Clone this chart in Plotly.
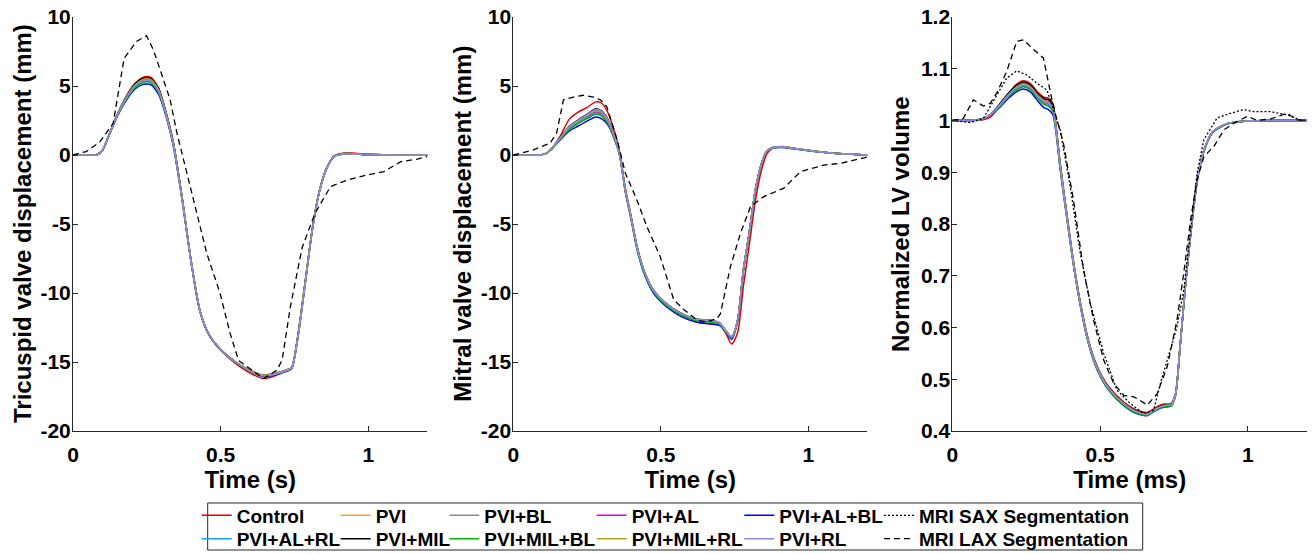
import plotly.graph_objects as go

# ---------------- data ----------------
NAMES = ["Control", "PVI", "PVI+BL", "PVI+AL", "PVI+AL+BL",
         "PVI+AL+RL", "PVI+MIL", "PVI+MIL+BL", "PVI+MIL+RL", "PVI+RL"]

X_TICKS = [0, 0.5, 1]
X_TICK_TEXT = ["0", "0.5", "1"]
Y_TICKS_DISP = [-20, -15, -10, -5, 0, 5, 10]
Y_TICK_TEXT_DISP = ["-20", "-15", "-10", "-5", "0", "5", "10"]
Y_TICKS_VOL = [0.4, 0.5, 0.6, 0.7, 0.8, 0.9, 1.0, 1.1, 1.2]
Y_TICK_TEXT_VOL = ["0.4", "0.5", "0.6", "0.7", "0.8", "0.9", "1", "1.1", "1.2"]
X_TITLES = ["Time (s)", "Time (s)", "Time (ms)"]
Y_TITLES = ["Tricuspid valve displacement (mm)", "Mitral valve displacement (mm)",
            "Normalized LV volume"]

# Tricuspid valve displacement (mm)
T_TV = [0, 0.05, 0.08, 0.10, 0.12, 0.15, 0.18, 0.21, 0.235, 0.25, 0.265, 0.29, 0.315,
        0.34, 0.37, 0.40, 0.43, 0.46, 0.50, 0.55, 0.60, 0.645, 0.69, 0.72, 0.74, 0.76,
        0.785, 0.81, 0.835, 0.86, 0.885, 0.92, 1.0, 1.1, 1.2]
TV_CONTROL = [0, 0, 0.02, 0.35, 1.35, 2.95, 4.25, 5.2, 5.6, 5.68, 5.6, 4.85, 3.1,
              0.9, -3.15, -7.7, -11.35, -13.05, -14.15, -15.1, -15.8, -16.2, -15.95, -15.7, -15.5, -13.4,
              -9.5, -5.5, -2.6, -0.9, -0.05, 0.15, 0.05, 0.0, 0.0]
TV_PVI = [0, 0, 0.02, 0.35, 1.35, 2.9, 4.15, 5.05, 5.43, 5.5, 5.42, 4.7, 3.0,
          0.8, -3.2, -7.7, -11.3, -13.0, -14.1, -15.0, -15.65, -16.0, -15.85, -15.65, -15.45, -13.3,
          -9.4, -5.4, -2.55, -0.9, -0.08, 0.1, 0.03, 0.0, 0.0]
TV_PVI_BL = [0, 0, 0.02, 0.35, 1.35, 2.9, 4.17, 5.1, 5.48, 5.55, 5.47, 4.75, 3.02,
             0.8, -3.2, -7.7, -11.3, -13.0, -14.1, -15.0, -15.65, -16.0, -15.85, -15.65, -15.45, -13.3,
             -9.4, -5.4, -2.55, -0.9, -0.08, 0.1, 0.03, 0.0, 0.0]
TV_PVI_AL = [0, 0, 0.02, 0.35, 1.35, 2.88, 4.12, 5.02, 5.38, 5.45, 5.37, 4.65, 2.97,
             0.8, -3.2, -7.7, -11.3, -13.0, -14.1, -15.0, -15.65, -16.0, -15.85, -15.65, -15.45, -13.3,
             -9.4, -5.4, -2.55, -0.9, -0.08, 0.1, 0.03, 0.0, 0.0]
TV_PVI_AL_BL = [0, 0, 0.02, 0.34, 1.3, 2.8, 3.95, 4.78, 5.1, 5.15, 5.08, 4.4, 2.8,
                0.6, -3.35, -7.8, -11.35, -13.0, -14.1, -15.0, -15.65, -16.05, -15.9, -15.7, -15.5, -13.45,
                -9.55, -5.5, -2.6, -0.95, -0.1, 0.08, 0.02, 0.0, 0.0]
TV_PVI_AL_RL = [0, 0, 0.02, 0.35, 1.33, 2.85, 4.07, 4.95, 5.29, 5.35, 5.28, 4.58, 2.92,
                0.75, -3.25, -7.7, -11.3, -13.0, -14.1, -15.0, -15.65, -16.0, -15.85, -15.65, -15.45, -13.35,
                -9.45, -5.45, -2.55, -0.9, -0.08, 0.1, 0.03, 0.0, 0.0]
TV_PVI_MIL = [0, 0, 0.02, 0.35, 1.35, 2.93, 4.2, 5.15, 5.53, 5.6, 5.52, 4.8, 3.06,
              0.85, -3.2, -7.7, -11.3, -13.0, -14.1, -15.0, -15.6, -15.95, -15.8, -15.6, -15.4, -13.3,
              -9.4, -5.4, -2.55, -0.9, -0.08, 0.1, 0.03, 0.0, 0.0]
TV_PVI_MIL_BL = [0, 0, 0.02, 0.35, 1.32, 2.83, 4.03, 4.9, 5.24, 5.3, 5.23, 4.53, 2.9,
                 0.7, -3.3, -7.75, -11.3, -13.0, -14.1, -15.0, -15.65, -16.0, -15.85, -15.65, -15.45, -13.35,
                 -9.45, -5.45, -2.55, -0.9, -0.08, 0.1, 0.03, 0.0, 0.0]
TV_PVI_MIL_RL = [0, 0, 0.02, 0.35, 1.35, 2.91, 4.16, 5.07, 5.45, 5.52, 5.44, 4.72, 3.01,
                 0.8, -3.2, -7.7, -11.3, -13.0, -14.1, -15.0, -15.6, -15.95, -15.8, -15.6, -15.4, -13.3,
                 -9.4, -5.4, -2.55, -0.9, -0.08, 0.1, 0.03, 0.0, 0.0]
TV_PVI_RL = [0, 0, 0.02, 0.35, 1.34, 2.87, 4.1, 5.0, 5.35, 5.42, 5.34, 4.63, 2.95,
             0.75, -3.25, -7.75, -11.3, -13.0, -14.1, -15.0, -15.65, -16.0, -15.85, -15.65, -15.45, -13.45,
             -9.55, -5.5, -2.6, -0.95, -0.1, 0.08, 0.02, 0.0, 0.0]

# Mitral valve displacement (mm)
T_MV = [0, 0.05, 0.09, 0.11, 0.13, 0.16, 0.19, 0.22, 0.25, 0.28, 0.30, 0.32, 0.34,
        0.36, 0.38, 0.40, 0.42, 0.445, 0.475, 0.52, 0.57, 0.62, 0.67, 0.70, 0.72, 0.74,
        0.76, 0.78, 0.80, 0.82, 0.84, 0.86, 0.88, 0.91, 0.96, 1.03, 1.1, 1.2]
MV_CONTROL = [0, 0, 0, 0.1, 0.45, 1.4, 2.6, 3.1, 3.45, 3.85, 3.75, 3.1, 1.9,
              0.3, -2.4, -4.5, -6.7, -8.6, -9.95, -10.95, -11.7, -12.1, -12.25, -12.35, -12.9, -13.7,
              -12.9, -9.5, -6.5, -3.4, -1.2, 0.1, 0.5, 0.62, 0.45, 0.25, 0.1, 0.0]
MV_PVI = [0, 0, 0, 0.1, 0.45, 1.25, 2.0, 2.45, 2.85, 3.2, 3.05, 2.5, 1.5,
          0.1, -2.6, -4.6, -6.7, -8.5, -9.8, -10.8, -11.5, -11.9, -12.0, -12.2, -12.75, -13.2,
          -12.0, -8.3, -5.6, -2.6, -0.7, 0.3, 0.55, 0.6, 0.45, 0.25, 0.1, 0.0]
MV_PVI_BL = [0, 0, 0, 0.1, 0.45, 1.25, 2.05, 2.5, 2.9, 3.28, 3.12, 2.55, 1.55,
             0.1, -2.6, -4.6, -6.7, -8.5, -9.8, -10.8, -11.5, -11.9, -12.0, -12.2, -12.75, -13.2,
             -12.0, -8.3, -5.6, -2.6, -0.7, 0.3, 0.55, 0.6, 0.45, 0.25, 0.1, 0.0]
MV_PVI_AL = [0, 0, 0, 0.1, 0.45, 1.22, 1.95, 2.4, 2.78, 3.12, 2.98, 2.45, 1.45,
             0.08, -2.62, -4.62, -6.72, -8.52, -9.82, -10.82, -11.52, -11.92, -12.02, -12.22, -12.75, -13.2,
             -12.0, -8.3, -5.6, -2.6, -0.7, 0.3, 0.55, 0.6, 0.45, 0.25, 0.1, 0.0]
MV_PVI_AL_BL = [0, 0, 0, 0.1, 0.42, 1.12, 1.75, 2.1, 2.45, 2.75, 2.62, 2.2, 1.3,
                0.0, -2.7, -4.75, -6.9, -8.7, -10.0, -11.0, -11.7, -12.1, -12.25, -12.35, -12.85, -13.35,
                -12.1, -8.4, -5.6, -2.6, -0.7, 0.3, 0.5, 0.55, 0.42, 0.23, 0.1, 0.0]
MV_PVI_AL_RL = [0, 0, 0, 0.1, 0.44, 1.2, 1.9, 2.32, 2.68, 3.02, 2.88, 2.38, 1.42,
                0.05, -2.65, -4.65, -6.8, -8.6, -9.9, -10.9, -11.6, -12.0, -12.1, -12.25, -12.8, -13.25,
                -12.05, -8.35, -5.6, -2.6, -0.7, 0.3, 0.53, 0.58, 0.44, 0.24, 0.1, 0.0]
MV_PVI_MIL = [0, 0, 0, 0.1, 0.45, 1.27, 2.08, 2.55, 2.95, 3.35, 3.18, 2.6, 1.58,
              0.12, -2.58, -4.58, -6.68, -8.48, -9.78, -10.78, -11.48, -11.88, -11.98, -12.18, -12.72, -13.18,
              -12.0, -8.3, -5.6, -2.6, -0.7, 0.3, 0.55, 0.6, 0.45, 0.25, 0.1, 0.0]
MV_PVI_MIL_BL = [0, 0, 0, 0.1, 0.44, 1.18, 1.85, 2.28, 2.63, 2.95, 2.82, 2.33, 1.38,
                 0.05, -2.65, -4.65, -6.8, -8.6, -9.9, -10.9, -11.6, -12.0, -12.1, -12.25, -12.8, -13.25,
                 -12.05, -8.35, -5.6, -2.6, -0.7, 0.3, 0.53, 0.58, 0.44, 0.24, 0.1, 0.0]
MV_PVI_MIL_RL = [0, 0, 0, 0.1, 0.45, 1.24, 2.0, 2.45, 2.84, 3.2, 3.05, 2.5, 1.5,
                 0.1, -2.6, -4.6, -6.7, -8.5, -9.8, -10.8, -11.5, -11.9, -12.0, -12.2, -12.75, -13.15,
                 -12.0, -8.3, -5.6, -2.6, -0.7, 0.3, 0.55, 0.6, 0.45, 0.25, 0.1, 0.0]
MV_PVI_RL = [0, 0, 0, 0.1, 0.45, 1.26, 2.05, 2.52, 2.92, 3.3, 3.14, 2.57, 1.55,
             0.1, -2.6, -4.6, -6.7, -8.5, -9.8, -10.8, -11.5, -11.9, -11.98, -12.15, -12.7, -13.15,
             -12.0, -8.3, -5.6, -2.6, -0.7, 0.3, 0.55, 0.6, 0.45, 0.25, 0.1, 0.0]

# Normalized LV volume
T_LV = [0, 0.06, 0.10, 0.13, 0.16, 0.19, 0.215, 0.24, 0.265, 0.29, 0.31, 0.325, 0.34,
        0.35, 0.365, 0.39, 0.41, 0.435, 0.46, 0.49, 0.53, 0.58, 0.625, 0.66, 0.69, 0.715,
        0.74, 0.755, 0.77, 0.79, 0.81, 0.83, 0.85, 0.88, 0.93, 1.0, 1.1, 1.2]
LV_CONTROL = [1.0, 1.0, 1.001, 1.007, 1.028, 1.052, 1.069, 1.077, 1.071, 1.054, 1.045, 1.043, 1.033,
              0.995, 0.918, 0.81, 0.728, 0.643, 0.577, 0.525, 0.485, 0.456, 0.44, 0.436, 0.446, 0.452,
              0.453, 0.472, 0.56, 0.69, 0.8, 0.89, 0.94, 0.978, 0.994, 0.999, 1.0, 1.0]
LV_PVI = [1.0, 1.0, 1.003, 1.012, 1.03, 1.05, 1.063, 1.07, 1.064, 1.047, 1.038, 1.035, 1.025,
          0.99, 0.912, 0.805, 0.724, 0.64, 0.574, 0.522, 0.482, 0.453, 0.437, 0.433, 0.443, 0.449,
          0.451, 0.47, 0.56, 0.69, 0.8, 0.89, 0.94, 0.978, 0.994, 0.999, 1.0, 1.0]
LV_PVI_BL = [1.0, 1.0, 1.003, 1.012, 1.031, 1.051, 1.065, 1.072, 1.066, 1.049, 1.04, 1.038, 1.028,
             0.99, 0.912, 0.805, 0.724, 0.64, 0.574, 0.522, 0.482, 0.453, 0.437, 0.433, 0.443, 0.449,
             0.451, 0.47, 0.56, 0.69, 0.8, 0.89, 0.94, 0.978, 0.994, 0.999, 1.0, 1.0]
LV_PVI_AL = [1.0, 1.0, 1.003, 1.012, 1.029, 1.049, 1.061, 1.068, 1.062, 1.045, 1.035, 1.032, 1.022,
             0.988, 0.91, 0.804, 0.723, 0.639, 0.573, 0.521, 0.481, 0.452, 0.436, 0.432, 0.442, 0.448,
             0.45, 0.47, 0.56, 0.69, 0.8, 0.89, 0.94, 0.978, 0.994, 0.999, 1.0, 1.0]
LV_PVI_AL_BL = [1.0, 1.0, 1.003, 1.011, 1.025, 1.043, 1.055, 1.061, 1.055, 1.037, 1.025, 1.021, 1.012,
                0.98, 0.905, 0.8, 0.72, 0.636, 0.57, 0.518, 0.478, 0.449, 0.433, 0.43, 0.44, 0.446,
                0.448, 0.468, 0.558, 0.688, 0.798, 0.888, 0.938, 0.976, 0.993, 0.999, 1.0, 1.0]
LV_PVI_AL_RL = [1.0, 1.0, 1.003, 1.012, 1.028, 1.047, 1.059, 1.066, 1.06, 1.043, 1.032, 1.029, 1.019,
                0.986, 0.909, 0.803, 0.722, 0.638, 0.572, 0.52, 0.48, 0.451, 0.435, 0.431, 0.441, 0.447,
                0.449, 0.469, 0.559, 0.689, 0.799, 0.889, 0.939, 0.977, 0.994, 0.999, 1.0, 1.0]
LV_PVI_MIL = [1.0, 1.0, 1.003, 1.012, 1.032, 1.053, 1.067, 1.074, 1.068, 1.051, 1.042, 1.04, 1.03,
              0.992, 0.914, 0.806, 0.725, 0.641, 0.575, 0.523, 0.483, 0.454, 0.438, 0.434, 0.444, 0.45,
              0.452, 0.471, 0.56, 0.69, 0.8, 0.89, 0.94, 0.978, 0.994, 0.999, 1.0, 1.0]
LV_PVI_MIL_BL = [1.0, 1.0, 1.003, 1.012, 1.027, 1.046, 1.058, 1.065, 1.059, 1.042, 1.031, 1.028, 1.018,
                 0.985, 0.908, 0.802, 0.721, 0.637, 0.571, 0.519, 0.479, 0.45, 0.434, 0.431, 0.441, 0.447,
                 0.449, 0.469, 0.559, 0.689, 0.799, 0.889, 0.939, 0.977, 0.994, 0.999, 1.0, 1.0]
LV_PVI_MIL_RL = [1.0, 1.0, 1.003, 1.012, 1.03, 1.05, 1.064, 1.071, 1.065, 1.048, 1.039, 1.036, 1.026,
                 0.99, 0.912, 0.805, 0.724, 0.64, 0.574, 0.522, 0.482, 0.453, 0.437, 0.433, 0.443, 0.449,
                 0.451, 0.47, 0.56, 0.69, 0.8, 0.89, 0.94, 0.978, 0.994, 0.999, 1.0, 1.0]
LV_PVI_RL = [1.0, 1.0, 1.003, 1.012, 1.029, 1.049, 1.062, 1.069, 1.063, 1.046, 1.037, 1.034, 1.024,
             0.989, 0.911, 0.805, 0.724, 0.64, 0.574, 0.522, 0.482, 0.453, 0.437, 0.433, 0.443, 0.449,
             0.451, 0.47, 0.56, 0.69, 0.8, 0.89, 0.94, 0.978, 0.994, 0.999, 1.0, 1.0]

# MRI LAX segmentation (dashed)
T_LAX_TV = [0, 0.045, 0.091, 0.136, 0.173, 0.215, 0.249, 0.272, 0.295, 0.329, 0.352, 0.386,
            0.419, 0.453, 0.498, 0.532, 0.561, 0.589, 0.645, 0.69, 0.708, 0.736, 0.776, 0.82,
            0.872, 0.929, 0.997, 1.053, 1.11, 1.166, 1.2]
LAX_TV = [0, 0.25, 0.95, 2.3, 7.0, 8.23, 8.64, 7.63, 6.18, 4.0, 1.58, -1.32,
          -4.22, -7.13, -10.03, -12.93, -14.9, -15.35, -16.2, -15.6, -14.87, -11.0, -6.7, -4.2,
          -2.29, -1.81, -1.44, -1.2, -0.48, -0.3, -0.1]
T_LAX_MV = [0, 0.068, 0.125, 0.147, 0.17, 0.204, 0.238, 0.272, 0.295, 0.317, 0.352, 0.38,
            0.419, 0.453, 0.498, 0.544, 0.578, 0.623, 0.657, 0.691, 0.702, 0.736, 0.77, 0.804,
            0.849, 0.917, 0.974, 1.053, 1.11, 1.2]
LAX_MV = [0, 0.37, 0.86, 1.6, 4.0, 4.2, 4.33, 4.2, 4.0, 3.51, 1.1, -1.32,
          -3.26, -5.2, -7.36, -10.5, -11.2, -11.97, -12.1, -11.85, -11.5, -8.1, -5.68, -3.74,
          -3.02, -2.4, -1.2, -0.73, -0.6, -0.15]
T_LAX_LV = [0, 0.037, 0.071, 0.105, 0.128, 0.15, 0.184, 0.218, 0.241, 0.275, 0.308, 0.337,
            0.354, 0.376, 0.41, 0.444, 0.478, 0.512, 0.546, 0.58, 0.614, 0.636, 0.659, 0.693,
            0.727, 0.76, 0.783, 0.806, 0.828, 0.851, 0.885, 0.919, 0.953, 0.998, 1.032, 1.077,
            1.133, 1.167, 1.2]
LAX_LV = [1.0, 1.004, 1.04, 1.028, 1.033, 1.053, 1.095, 1.153, 1.156, 1.137, 1.121, 1.04,
          1.001, 0.956, 0.846, 0.711, 0.614, 0.537, 0.492, 0.469, 0.466, 0.459, 0.45, 0.472,
          0.524, 0.614, 0.705, 0.808, 0.885, 0.93, 0.95, 0.982, 0.995, 1.008, 1.0, 1.003,
          1.014, 1.001, 1.0]

# MRI SAX segmentation (dotted, LV volume only)
T_SAX_LV = [0, 0.06, 0.105, 0.15, 0.184, 0.218, 0.252, 0.286, 0.32, 0.342, 0.365, 0.399,
            0.433, 0.467, 0.512, 0.557, 0.602, 0.647, 0.681, 0.704, 0.738, 0.76, 0.783, 0.806,
            0.828, 0.851, 0.896, 0.941, 0.986, 1.02, 1.077, 1.133, 1.178, 1.2]
SAX_LV = [1.0, 0.996, 1.004, 1.05, 1.082, 1.096, 1.088, 1.072, 1.059, 1.021, 0.982, 0.872,
          0.743, 0.646, 0.55, 0.479, 0.453, 0.434, 0.44, 0.492, 0.556, 0.601, 0.672, 0.782,
          0.898, 0.963, 1.005, 1.014, 1.021, 1.017, 1.017, 1.011, 1.001, 1.0]

TV_SERIES = [TV_CONTROL, TV_PVI, TV_PVI_BL, TV_PVI_AL, TV_PVI_AL_BL,
             TV_PVI_AL_RL, TV_PVI_MIL, TV_PVI_MIL_BL, TV_PVI_MIL_RL, TV_PVI_RL]
MV_SERIES = [MV_CONTROL, MV_PVI, MV_PVI_BL, MV_PVI_AL, MV_PVI_AL_BL,
             MV_PVI_AL_RL, MV_PVI_MIL, MV_PVI_MIL_BL, MV_PVI_MIL_RL, MV_PVI_RL]
LV_SERIES = [LV_CONTROL, LV_PVI, LV_PVI_BL, LV_PVI_AL, LV_PVI_AL_BL,
             LV_PVI_AL_RL, LV_PVI_MIL, LV_PVI_MIL_BL, LV_PVI_MIL_RL, LV_PVI_RL]

# ---------------- style ----------------
COLORS = ["#e00000", "#ffa31a", "#8c8c8c", "#e600e6", "#0000ff",
          "#1e9bff", "#000000", "#00b400", "#b3a01a", "#8a8ae0"]
FONT = "Liberation Sans, Arial, Helvetica, sans-serif"
AXC = "#262626"
W, H = 1313, 554
ML, MR, MT, MB = 73, 6, 17, 123
PW, PH = W - ML - MR, H - MT - MB
X_DOMAINS = [[0, 0.2872], [0.3568, 0.6437], [0.7126, 1.0]]
Y_TITLE_PX = [22.0, 461.7, 900.0]   # centre x of rotated y titles

# legend slots: one single-item legend per cell (column x of text start, row centre y), in px
COL_TEXT_X = [236.7, 375.7, 484.3, 631.7, 779.3, 919.0]
ROW_Y = [516.0, 539.3]
SLOT_OF_SIM = [(0, 0), (1, 0), (2, 0), (3, 0), (4, 0),
               (0, 1), (1, 1), (2, 1), (3, 1), (4, 1)]
SLOT_SAX = (5, 0)
SLOT_LAX = (5, 1)


def legend_id(slot):
    n = slot[1] * 6 + slot[0] + 1
    return "legend" if n == 1 else f"legend{n}"


fig = go.Figure()

panels = [
    ("x", "y", T_TV, TV_SERIES, T_LAX_TV, LAX_TV),
    ("x2", "y2", T_MV, MV_SERIES, T_LAX_MV, LAX_MV),
    ("x3", "y3", T_LV, LV_SERIES, T_LAX_LV, LAX_LV),
]

for p, (xa, ya, tgrid, series, tl, lax) in enumerate(panels):
    for i, name in enumerate(NAMES):
        fig.add_trace(go.Scatter(
            x=tgrid, y=series[i], xaxis=xa, yaxis=ya, mode="lines", name=name,
            line=dict(color=COLORS[i], width=1.5, shape="spline", smoothing=0.7),
            legend=legend_id(SLOT_OF_SIM[i]), showlegend=(p == 0), hoverinfo="skip"))
    if p == 2:
        fig.add_trace(go.Scatter(
            x=T_SAX_LV, y=SAX_LV, xaxis=xa, yaxis=ya, mode="lines",
            name="MRI SAX Segmentation", line=dict(color="black", width=1.3, dash="2px,2px"),
            legend=legend_id(SLOT_SAX), showlegend=True, hoverinfo="skip"))
    fig.add_trace(go.Scatter(
        x=tl, y=lax, xaxis=xa, yaxis=ya, mode="lines",
        name="MRI LAX Segmentation", line=dict(color="black", width=1.3, dash="6px,4px"),
        legend=legend_id(SLOT_LAX), showlegend=(p == 0), hoverinfo="skip"))

tickfont = dict(family=FONT, size=21, color="black", weight="bold")
titlefont = dict(family=FONT, size=24, color="black", weight="bold")


def xaxis(domain, title, anchor):
    return dict(domain=domain, anchor=anchor, range=[0, 1.2],
                tickvals=X_TICKS, ticktext=X_TICK_TEXT,
                showline=True, linecolor=AXC, linewidth=1, ticks="inside", ticklen=5,
                tickcolor=AXC, showgrid=False, zeroline=False, tickfont=tickfont,
                ticklabelstandoff=5, automargin=False,
                title=dict(text=title, font=titlefont, standoff=5))


def yaxis(rng, tickvals, ticktext, anchor):
    return dict(domain=[0, 1], anchor=anchor, range=rng, tickvals=tickvals, ticktext=ticktext,
                showline=True, linecolor=AXC, linewidth=1, ticks="inside", ticklen=5,
                tickcolor=AXC, showgrid=False, zeroline=False, tickfont=tickfont,
                ticklabelstandoff=-3, automargin=False)


legend_common = dict(xref="container", yref="container", xanchor="left", yanchor="top",
                     orientation="v", bgcolor="rgba(0,0,0,0)", borderwidth=0,
                     font=dict(family=FONT, size=19, color="black", weight="bold"),
                     itemclick=False, itemdoubleclick=False)
legends = {}
for r in range(2):
    for c in range(6):
        key = legend_id((c, r))
        legends[key] = dict(legend_common, x=(COL_TEXT_X[c] - 40) / W,
                            y=1 - (ROW_Y[r] - 19.5) / H)

annotations = []
for k in range(3):
    annotations.append(dict(
        text=Y_TITLES[k], xref="paper", yref="paper",
        x=(Y_TITLE_PX[k] - ML) / PW, y=0.5, xanchor="center", yanchor="middle",
        textangle=-90, showarrow=False, font=titlefont))

fig.update_layout(
    width=W, height=H,
    margin=dict(l=ML, r=MR, t=MT, b=MB, autoexpand=False),
    paper_bgcolor="white", plot_bgcolor="white",
    font=dict(family=FONT, color="black", weight="bold"),
    xaxis=xaxis(X_DOMAINS[0], X_TITLES[0], "y"),
    yaxis=yaxis([-20, 10], Y_TICKS_DISP, Y_TICK_TEXT_DISP, "x"),
    xaxis2=xaxis(X_DOMAINS[1], X_TITLES[1], "y2"),
    yaxis2=yaxis([-20, 10], Y_TICKS_DISP, Y_TICK_TEXT_DISP, "x2"),
    xaxis3=xaxis(X_DOMAINS[2], X_TITLES[2], "y3"),
    yaxis3=yaxis([0.4, 1.2], Y_TICKS_VOL, Y_TICK_TEXT_VOL, "x3"),
    annotations=annotations,
    shapes=[dict(type="rect", xref="paper", yref="paper",
                 x0=(207.7 - ML) / PW, x1=(1142.7 - ML) / PW,
                 y0=(H - MB - 550) / PH, y1=(H - MB - 503) / PH,
                 line=dict(color=AXC, width=1), fillcolor="rgba(0,0,0,0)")],
    **legends,
)

fig.write_html("out.html", config={"displayModeBar": False},
               post_script="document.body.style.margin='0';")
